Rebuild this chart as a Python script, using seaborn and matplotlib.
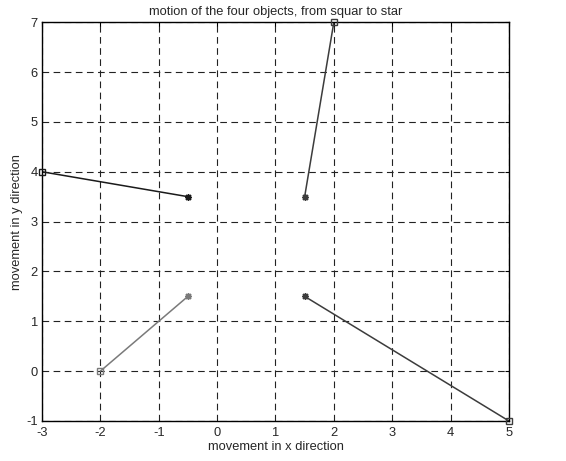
import matplotlib
matplotlib.use("Agg")
import matplotlib.pyplot as plt
import seaborn as sns
import pandas as pd

# data: start (square) and end (star) of each object
objects = ["obj1", "obj2", "obj3", "obj4"]
x_start = [-3.0, -2.0, 2.0, 5.0]
y_start = [4.0, 0.0, 7.0, -1.0]
x_end = [-0.5, -0.5, 1.5, 1.5]
y_end = [3.5, 1.5, 3.5, 1.5]
colors = ["#1a1a1a", "#7a7a7a", "#3c3c3c", "#3c3c3c"]

x_ticks = [-3, -2, -1, 0, 1, 2, 3, 4, 5]
y_ticks = [-1, 0, 1, 2, 3, 4, 5, 6, 7]

sns.set_style("white")
plt.rcParams["font.family"] = ["Liberation Sans", "DejaVu Sans"]
fs = 9.3
plt.rcParams["font.size"] = fs

fig = plt.figure(figsize=(5.66, 4.61), dpi=100)
ax = fig.add_axes([0.0742, 0.0868, 0.825, 0.865])

for i, name in enumerate(objects):
    df = pd.DataFrame({"x": [x_start[i], x_end[i]], "y": [y_start[i], y_end[i]]})
    sns.lineplot(data=df, x="x", y="y", ax=ax, sort=False, color=colors[i],
                 linewidth=1.1, estimator=None)
    ax.plot(x_start[i], y_start[i], marker="s", markersize=5, markerfacecolor="none",
            markeredgecolor=colors[i], markeredgewidth=1.0, clip_on=False, zorder=5)
    ax.plot(x_end[i], y_end[i], marker=(8, 2, 0), markersize=5,
            markeredgecolor=colors[i], markeredgewidth=1.0, clip_on=False, zorder=5)

ax.set_xlim(-3, 5)
ax.set_ylim(-1, 7)
ax.set_xticks(x_ticks)
ax.set_yticks(y_ticks)
ax.set_xticklabels([str(t) for t in x_ticks])
ax.set_yticklabels([str(t) for t in y_ticks])
ax.grid(True, color="#222222", linestyle=(0, (6, 4)), linewidth=0.8)
ax.tick_params(axis="both", direction="in", length=3, labelsize=fs,
               top=True, right=True, color="black")
ax.tick_params(axis="x", pad=4)
ax.tick_params(axis="y", pad=3)
for s in ax.spines.values():
    s.set_color("black")
    s.set_linewidth(1.0)
ax.set_xlabel("movement in x direction", fontsize=fs, labelpad=2)
ax.set_ylabel("movement in y direction", fontsize=fs, labelpad=2)
ax.set_title("motion of the four objects, from squar to star", fontsize=fs, pad=5)

fig.savefig("out.png", dpi=100)
